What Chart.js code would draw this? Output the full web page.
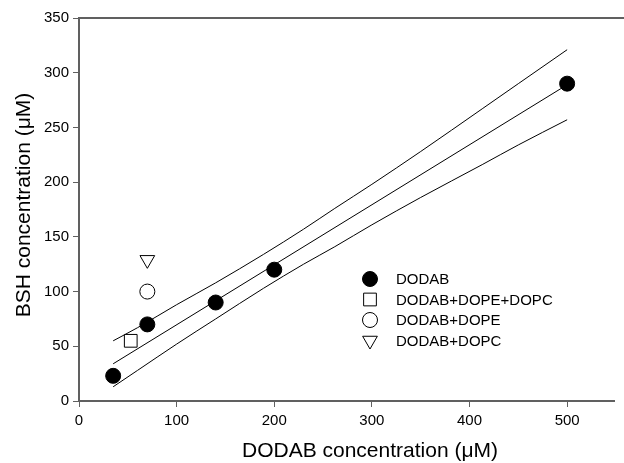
<!DOCTYPE html>
<html>
<head>
<meta charset="utf-8">
<script src="https://cdn.jsdelivr.net/npm/chart.js@4"></script>
<style>
  html, body { margin: 0; padding: 0; background: #fff; }
  #wrap { width: 624px; height: 463px; }
</style>
</head>
<body>
<div id="wrap"><canvas id="chart" width="624" height="463"></canvas></div>
<script>
// --- data ---
const dodabX = [35, 70, 140, 200, 500];
const dodabY = [23, 70, 90, 120, 290];
const mixPEPC = [{ x: 53, y: 55 }];   // DODAB+DOPE+DOPC
const mixPE = [{ x: 70, y: 100 }];    // DODAB+DOPE
const mixPC = [{ x: 70, y: 129 }];    // DODAB+DOPC

// regression line + 95% confidence bands
const fitX = [35, 500];
const fitY = [34, 289];
const bandX = [35, 60, 100, 140, 189, 230, 262, 300, 350, 413, 450, 500];
const upperY = [55, 67, 88, 108, 134, 157, 176, 198, 228, 267, 290, 321];
const lowerY = [13, 28, 52, 75, 103, 125, 141, 161, 186, 216, 234, 257];

const xTicks = [0, 100, 200, 300, 400, 500];
const yTicks = [0, 50, 100, 150, 200, 250, 300, 350];

const xTitle = "DODAB concentration (μM)";
const yTitle = "BSH concentration (μM)";

const FONT = "'Liberation Sans', Arial, Helvetica, sans-serif";
const AXIS = "#606060";

const pts = (xs, ys) => xs.map((x, i) => ({ x, y: ys[i] }));

// legend drawn inside the plot, like the original
const insideLegend = {
  id: "insideLegend",
  afterDraw(chart) {
    const ctx = chart.ctx;
    const rows = chart.data.datasets.filter(d => d.inLegend);
    const mx = 370, tx = 396, y0 = 279, dy = 20.5;
    ctx.save();
    ctx.font = "15px " + FONT;
    ctx.textBaseline = "middle";
    rows.forEach((d, i) => {
      const y = y0 + i * dy;
      ctx.fillStyle = d.backgroundColor;
      ctx.strokeStyle = d.borderColor;
      ctx.lineWidth = d.borderWidth;
      Chart.helpers.drawPoint(ctx, {
        pointStyle: d.pointStyle, rotation: d.rotation || 0,
        radius: d.pointRadius, borderWidth: d.borderWidth
      }, mx, y);
      ctx.fillStyle = "#000";
      ctx.fillText(d.label, tx, y + 1);
    });
    ctx.restore();
  }
};

// top frame line + axis titles
const frameAndTitles = {
  id: "frameAndTitles",
  afterDraw(chart) {
    const { ctx, chartArea } = chart;
    ctx.save();
    ctx.strokeStyle = AXIS;
    ctx.lineWidth = 2;
    ctx.beginPath();
    ctx.moveTo(chartArea.left, chartArea.top);
    ctx.lineTo(chart.width, chartArea.top);
    ctx.stroke();

    ctx.fillStyle = "#000";
    ctx.textAlign = "center";
    ctx.textBaseline = "middle";
    ctx.font = "21px " + FONT;
    ctx.fillText(xTitle, 370, 451);

    ctx.translate(24, 205);
    ctx.rotate(-Math.PI / 2);
    ctx.fillText(yTitle, 0, 0);
    ctx.restore();
  }
};

const lineDs = (data) => ({
  type: "line", data, borderColor: "#000", borderWidth: 1,
  pointRadius: 0, fill: false, cubicInterpolationMode: "monotone", order: 5
});

new Chart(document.getElementById("chart"), {
  type: "scatter",
  data: {
    datasets: [
      lineDs(pts(bandX, upperY)),
      lineDs(pts(fitX, fitY)),
      lineDs(pts(bandX, lowerY)),
      { label: "DODAB", data: pts(dodabX, dodabY), inLegend: true,
        pointStyle: "circle", pointRadius: 7.5, backgroundColor: "#000", borderColor: "#000", borderWidth: 1, order: 1 },
      { label: "DODAB+DOPE+DOPC", data: mixPEPC, inLegend: true,
        pointStyle: "rect", pointRadius: 9, backgroundColor: "#fff", borderColor: "#000", borderWidth: 1, order: 1 },
      { label: "DODAB+DOPE", data: mixPE, inLegend: true,
        pointStyle: "circle", pointRadius: 7.5, backgroundColor: "#fff", borderColor: "#000", borderWidth: 1, order: 1 },
      { label: "DODAB+DOPC", data: mixPC, inLegend: true,
        pointStyle: "triangle", rotation: 180, pointRadius: 8.5, backgroundColor: "#fff", borderColor: "#000", borderWidth: 1, order: 1 }
    ]
  },
  options: {
    responsive: false,
    animation: false,
    layout: { padding: { top: 18, right: 0, left: 0, bottom: 0 } },
    plugins: { legend: { display: false }, tooltip: { enabled: false } },
    scales: {
      x: {
        type: "linear", min: 0, max: 548,
        afterFit: s => { s.height = 62; },
        afterBuildTicks: s => { s.ticks = xTicks.map(v => ({ value: v })); },
        border: { color: AXIS, width: 2 },
        grid: { drawOnChartArea: false, drawTicks: true, tickLength: 6, tickColor: AXIS, tickWidth: 1 },
        ticks: { color: "#000", font: { family: FONT, size: 15 }, padding: 5, maxRotation: 0 }
      },
      y: {
        type: "linear", min: 0, max: 350,
        afterFit: s => { s.width = 79; },
        afterBuildTicks: s => { s.ticks = yTicks.map(v => ({ value: v })); },
        border: { color: AXIS, width: 2 },
        grid: { drawOnChartArea: false, drawTicks: true, tickLength: 6, tickColor: AXIS, tickWidth: 1 },
        ticks: { color: "#000", font: { family: FONT, size: 15 }, padding: 4 }
      }
    }
  },
  plugins: [insideLegend, frameAndTitles]
});
</script>
</body>
</html>
